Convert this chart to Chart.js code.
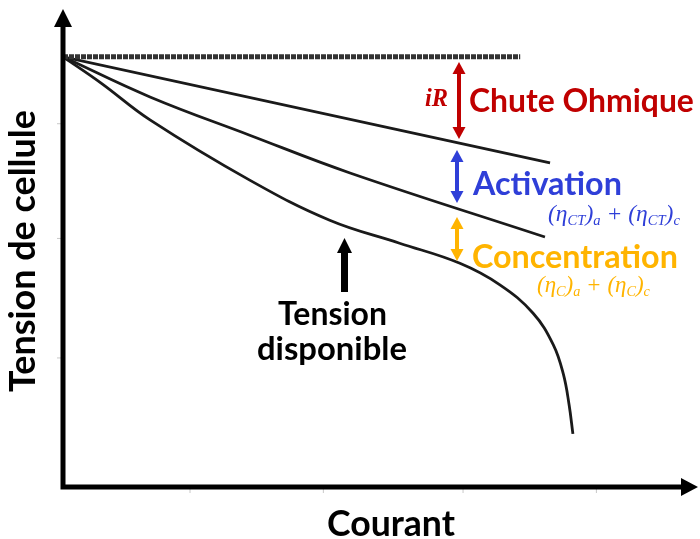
<!DOCTYPE html>
<html lang="fr">
  <head>
    <meta charset="UTF-8" />
    <title>Tension de cellule - Courant</title>
    <script src="https://cdn.jsdelivr.net/npm/chart.js"></script>
    <style>
      html, body { margin: 0; padding: 0; background: #fff; }
      #wrap { width: 700px; height: 539px; }
    </style>
  </head>
  <body>
    <div id="wrap"><canvas id="polarChart" width="700" height="539"></canvas></div>

    <script>
      // courant (0..10) / tension (0..10)
      const openCircuitX = [0, 7.2];
      const openCircuitY = [9.0, 9.0];

      const ohmicX = [0, 7.67];
      const ohmicY = [9.0, 6.78];

      const activationX = [0, 1.37, 2.94, 4.52, 7.59];
      const activationY = [9.0, 8.16, 7.36, 6.57, 5.23];

      const availableX = [0, 0.6, 1.37, 2.94, 4.2, 5.3, 6.25, 6.88, 7.40, 7.72, 7.88, 7.97, 8.03];
      const availableY = [9.0, 8.45, 7.68, 6.42, 5.58, 5.10, 4.68, 4.23, 3.64, 2.98, 2.36, 1.72, 1.11];

      const xTickValues = [2.0, 4.1, 6.3, 8.4];
      const yTickValues = [2.7, 5.2, 7.6];

      const xTitle = "Courant";
      const yTitle = "Tension de cellule";

      function toPoints(xs, ys) {
        return xs.map((x, i) => ({ x: x, y: ys[i] }));
      }

      const SANS = "Lato, 'Open Sans', sans-serif";
      const SERIF = "'Liberation Serif', 'DejaVu Serif', serif";
      const RED = "#c00000";
      const BLUE = "#2f3fd8";
      const ORANGE = "#ffb400";

      // draw text so that it fills [left, right]
      function fitText(ctx, text, left, right, baseline, weight, family, color) {
        ctx.font = weight + " 40px " + family;
        const w = ctx.measureText(text).width;
        const size = (40 * (right - left)) / w;
        ctx.font = weight + " " + size + "px " + family;
        ctx.fillStyle = color;
        ctx.textAlign = "left";
        ctx.textBaseline = "alphabetic";
        ctx.fillText(text, left, baseline);
      }

      // little formula with subscripts, fitted into [left, right]
      function formula(ctx, parts, left, right, baseline, color) {
        const measure = (size) => {
          let w = 0;
          parts.forEach((p) => {
            ctx.font = "italic " + (p.sub ? size * 0.62 : size) + "px " + SERIF;
            w += ctx.measureText(p.t).width;
          });
          return w;
        };
        const size = (40 * (right - left)) / measure(40);
        let x = left;
        ctx.fillStyle = color;
        ctx.textAlign = "left";
        ctx.textBaseline = "alphabetic";
        parts.forEach((p) => {
          const s = p.sub ? size * 0.62 : size;
          ctx.font = "italic " + s + "px " + SERIF;
          ctx.fillText(p.t, x, baseline + (p.sub ? size * 0.18 : 0));
          x += ctx.measureText(p.t).width;
        });
      }

      function arrowHead(ctx, x, y, dir, w, len) {
        // dir: -1 points up, 1 points down
        ctx.beginPath();
        ctx.moveTo(x, y);
        ctx.lineTo(x - w / 2, y - dir * len);
        ctx.lineTo(x + w / 2, y - dir * len);
        ctx.closePath();
        ctx.fill();
      }

      function doubleArrow(ctx, x, top, bottom, color) {
        ctx.save();
        ctx.strokeStyle = color;
        ctx.fillStyle = color;
        ctx.lineWidth = 4;
        ctx.beginPath();
        ctx.moveTo(x, top + 10);
        ctx.lineTo(x, bottom - 10);
        ctx.stroke();
        arrowHead(ctx, x, top, -1, 13, 12);
        arrowHead(ctx, x, bottom, 1, 13, 12);
        ctx.restore();
      }

      const decorPlugin = {
        id: "decor",
        afterDatasetsDraw(chart) {
          const ctx = chart.ctx;
          const xs = chart.scales.x;
          const ys = chart.scales.y;
          const x0 = xs.getPixelForValue(0);
          const y0 = ys.getPixelForValue(0);
          const xEnd = xs.getPixelForValue(10);
          const yEnd = ys.getPixelForValue(10);

          ctx.save();
          // faint tick marks
          ctx.strokeStyle = "#c8c8c8";
          ctx.lineWidth = 1;
          xTickValues.forEach((v) => {
            const px = xs.getPixelForValue(v);
            ctx.beginPath();
            ctx.moveTo(px, y0 + 2);
            ctx.lineTo(px, y0 + 6);
            ctx.stroke();
          });
          yTickValues.forEach((v) => {
            const py = ys.getPixelForValue(v);
            ctx.beginPath();
            ctx.moveTo(x0 - 6, py);
            ctx.lineTo(x0 - 2, py);
            ctx.stroke();
          });

          // axes with arrows
          ctx.strokeStyle = "#000";
          ctx.fillStyle = "#000";
          ctx.lineWidth = 5;
          ctx.lineCap = "square";
          ctx.beginPath();
          ctx.moveTo(x0, yEnd + 16);
          ctx.lineTo(x0, y0);
          ctx.lineTo(xEnd - 16, y0);
          ctx.stroke();
          arrowHead(ctx, x0, yEnd, -1, 18, 18);
          ctx.beginPath();
          ctx.moveTo(xEnd, y0);
          ctx.lineTo(xEnd - 17, y0 - 9);
          ctx.lineTo(xEnd - 17, y0 + 9);
          ctx.closePath();
          ctx.fill();

          // axis titles
          fitText(ctx, xTitle, 327, 455, 536, "bold", SANS, "#000");
          ctx.save();
          ctx.translate(35, 392);
          ctx.rotate(-Math.PI / 2);
          fitText(ctx, yTitle, 0, 282, 0, "bold", SANS, "#000");
          ctx.restore();

          // losses
          doubleArrow(ctx, 459, 62, 139, RED);
          doubleArrow(ctx, 457, 150, 203, BLUE);
          doubleArrow(ctx, 457, 217, 261, ORANGE);

          fitText(ctx, "iR", 425, 448, 106, "italic bold", SERIF, RED);
          fitText(ctx, "Chute Ohmique", 469, 694, 112, "bold", SANS, RED);
          fitText(ctx, "Activation", 473, 622, 195, "bold", SANS, BLUE);
          formula(
            ctx,
            [
              { t: "(η" }, { t: "CT", sub: true }, { t: ")" }, { t: "a", sub: true },
              { t: " + (η" }, { t: "CT", sub: true }, { t: ")" }, { t: "c", sub: true },
            ],
            548, 680, 221, BLUE
          );
          fitText(ctx, "Concentration", 472, 678, 268, "bold", SANS, ORANGE);
          formula(
            ctx,
            [
              { t: "(η" }, { t: "C", sub: true }, { t: ")" }, { t: "a", sub: true },
              { t: " + (η" }, { t: "C", sub: true }, { t: ")" }, { t: "c", sub: true },
            ],
            537, 650, 292, ORANGE
          );

          // available voltage
          ctx.fillStyle = "#000";
          ctx.fillRect(341, 252, 7, 40);
          arrowHead(ctx, 344.5, 238, -1, 15, 15);
          fitText(ctx, "Tension", 278, 387, 325, "bold", SANS, "#000");
          fitText(ctx, "disponible", 257, 407, 360, "bold", SANS, "#000");
          ctx.restore();
        },
      };

      const lineStyle = {
        borderColor: "#1a1a1a",
        borderWidth: 2.8,
        pointRadius: 0,
        showLine: true,
        fill: false,
        tension: 0.4,
      };

      new Chart(document.getElementById("polarChart"), {
        type: "scatter",
        data: {
          datasets: [
            {
              ...lineStyle,
              label: "Tension théorique",
              data: toPoints(openCircuitX, openCircuitY),
              borderColor: "#333",
              borderWidth: 5,
              borderDash: [5, 1],
              tension: 0,
            },
            { ...lineStyle, label: "Chute ohmique", data: toPoints(ohmicX, ohmicY), tension: 0 },
            { ...lineStyle, label: "Activation", data: toPoints(activationX, activationY) },
            { ...lineStyle, label: "Tension disponible", data: toPoints(availableX, availableY) },
          ],
        },
        options: {
          responsive: false,
          animation: false,
          layout: { padding: { left: 63, right: 2, top: 9, bottom: 52 } },
          plugins: {
            legend: { display: false },
            tooltip: { enabled: false },
          },
          scales: {
            x: { type: "linear", min: 0, max: 10, display: false },
            y: { type: "linear", min: 0, max: 10, display: false },
          },
        },
        plugins: [decorPlugin],
      });
    </script>
  </body>
</html>
